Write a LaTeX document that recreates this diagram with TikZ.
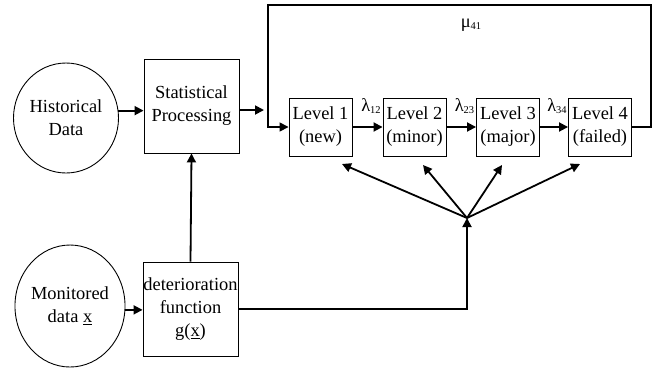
\documentclass[tikz,border=0pt]{standalone}
\usepackage{fontspec}
\setmainfont{Liberation Serif}
\usetikzlibrary{shapes.geometric,arrows.meta}

\newcommand{\sub}[1]{\raisebox{-0.3ex}{\fontsize{10.5}{10.5}\selectfont #1}}

\tikzset{
  txt/.style={font=\fontsize{18.5}{23}\selectfont, align=center},
  oval/.style={ellipse, draw, line width=0.9bp, inner sep=0pt, txt},
  block/.style={rectangle, draw, line width=0.9bp, inner sep=0pt, txt},
  level/.style={block, minimum width=63bp, minimum height=58bp},
  conn/.style={line width=1.8bp},
  tip/.style={-{Triangle[length=9bp,width=9bp]}},
  arr/.style={conn, tip},
  rate/.style={font=\fontsize{18.5}{18.5}\selectfont, inner sep=0pt}
}

\begin{document}
\begin{tikzpicture}[x=1bp, y=-1bp]
  \useasboundingbox (0,0) rectangle (658,368);

  % sources and processing blocks
  \node[oval, minimum width=105bp, minimum height=110bp] (hist) at (66,118) {Historical\\Data};
  \node[block, minimum width=95bp, minimum height=94bp] (stat) at (191.5,106) {Statistical\\Processing};
  \node[oval, minimum width=106bp, minimum height=122bp] (mon) at (70,306) {Monitored\\data \underline{x}};
  \node[block, minimum width=95bp, minimum height=94bp] (det) at (190.5,309) {deterioration\\function\\g(\underline{x})};

  % deterioration levels
  \node[level] (L1) at (320.5,127) {Level 1\\(new)};
  \node[level] (L2) at (414.5,127) {Level 2\\(minor)};
  \node[level] (L3) at (508,127) {Level 3\\(major)};
  \node[level] (L4) at (600,127) {Level 4\\(failed)};

  % routing points
  \coordinate (fbL) at (268,127);
  \coordinate (fbTL) at (268,5);
  \coordinate (fbTR) at (651,5);
  \coordinate (fbR) at (651,127);
  \coordinate (sptip) at (264,110);
  \coordinate (hub) at (467,218);
  \coordinate (hubc) at (467,309);
  \coordinate (t1) at (342,164);
  \coordinate (t2) at (423,165);
  \coordinate (t3) at (502,165);
  \coordinate (t4) at (580,164);

  % data flow
  \draw[arr] (hist.8.8) -- (stat.west |- hist.8.8);
  \draw[arr] (mon.-4.3) -- (det.west |- mon.-4.3);
  \draw[arr] (det.north) -- (stat.south);
  \draw[arr] ([yshift=-4bp]stat.east) -- (sptip);
  \draw[arr] (det.east) -- (hubc) -- (hub);

  % transitions between levels
  \draw[arr] (L1) -- (L2);
  \draw[arr] (L2) -- (L3);
  \draw[arr] (L3) -- (L4);
  \node[rate] (r12) at (371,106) {λ\sub{12}};
  \node[rate] (r23) at (464.5,106) {λ\sub{23}};
  \node[rate] (r34) at (557,106) {λ\sub{34}};

  % repair loop from failed back to new
  \draw[conn, line width=1.5bp, tip] (L4.east) -- (fbR) -- (fbTR) -- (fbTL) -- (fbL) -- (L1.west);
  \node[rate] (m41) at (471,25) {μ\sub{41}};

  % condition estimate feeding every level
  \draw[arr] (hub) -- (t1);
  \draw[arr] (hub) -- (t2);
  \draw[arr] (hub) -- (t3);
  \draw[arr] (hub) -- (t4);
\end{tikzpicture}
\end{document}
